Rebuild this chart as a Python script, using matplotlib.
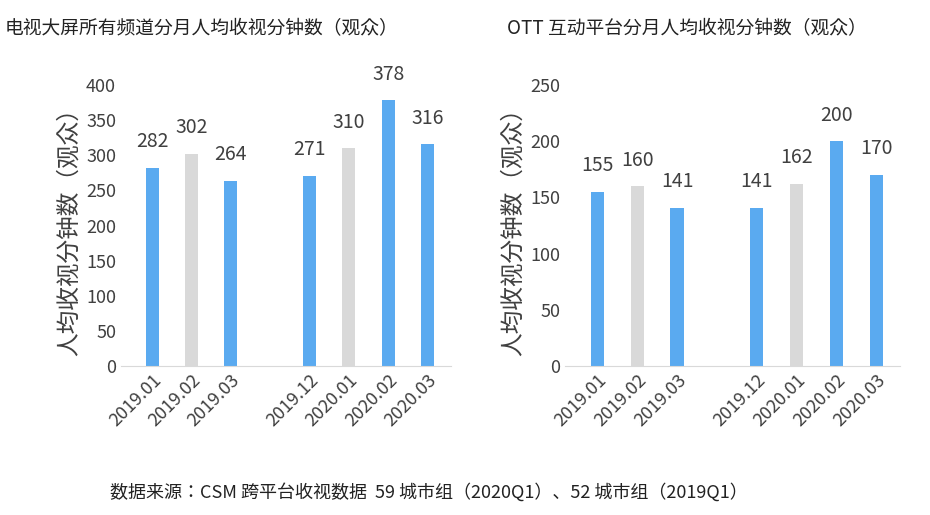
import matplotlib
matplotlib.use("Agg")
import matplotlib.pyplot as plt

plt.rcParams["font.family"] = ["Noto Sans CJK SC", "Noto Sans CJK JP", "Noto Sans CJK TC", "Noto Sans CJK KR", "DejaVu Sans"]

months = ["2019.01", "2019.02", "2019.03", "2019.12", "2020.01", "2020.02", "2020.03"]
tv_values = [282, 302, 264, 271, 310, 378, 316]
ott_values = [155, 160, 141, 141, 162, 200, 170]
bar_colors = ["#5AAAF0", "#D9D9D9", "#5AAAF0", "#5AAAF0", "#D9D9D9", "#5AAAF0", "#5AAAF0"]
positions = [0, 1, 2, 4, 5, 6, 7]

fig = plt.figure(figsize=(9.3, 5.15), dpi=100)
specs = [
    ([0.13, 0.289, 0.355, 0.546], tv_values, 400, 50, "电视大屏所有频道分月人均收视分钟数（观众）", 0.005),
    ([0.608, 0.289, 0.36, 0.546], ott_values, 250, 50, "OTT 互动平台分月人均收视分钟数（观众）", 0.545),
]
for rect, vals, ymax, step, title, tx in specs:
    ax = fig.add_axes(rect)
    ax.bar(positions, vals, width=0.33, color=bar_colors)
    for p, v in zip(positions, vals):
        ax.text(p, v + ymax * 0.055, str(v), ha="center", va="bottom", fontsize=14, color="#404040")
    ax.set_ylim(0, ymax)
    ax.set_xlim(-0.8, 7.6)
    ax.set_yticks(range(0, ymax + 1, step))
    ax.set_xticks(positions)
    ax.set_xticklabels(months, rotation=45, ha="right", rotation_mode="anchor")
    ax.tick_params(labelsize=13, colors="#404040", length=0)
    for s in ["top", "right", "left"]:
        ax.spines[s].set_visible(False)
    ax.spines["bottom"].set_color("#D9D9D9")
    ax.set_ylabel("人均收视分钟数（观众）", fontsize=17, color="#404040")
    fig.text(tx, 0.965, title, fontsize=13.5, color="#222222", va="top")

fig.text(0.118, 0.045, "数据来源：CSM 跨平台收视数据  59 城市组（2020Q1）、52 城市组（2019Q1）",
         fontsize=13, color="#222222", va="center")
fig.savefig("out.png", dpi=100, facecolor="white")
